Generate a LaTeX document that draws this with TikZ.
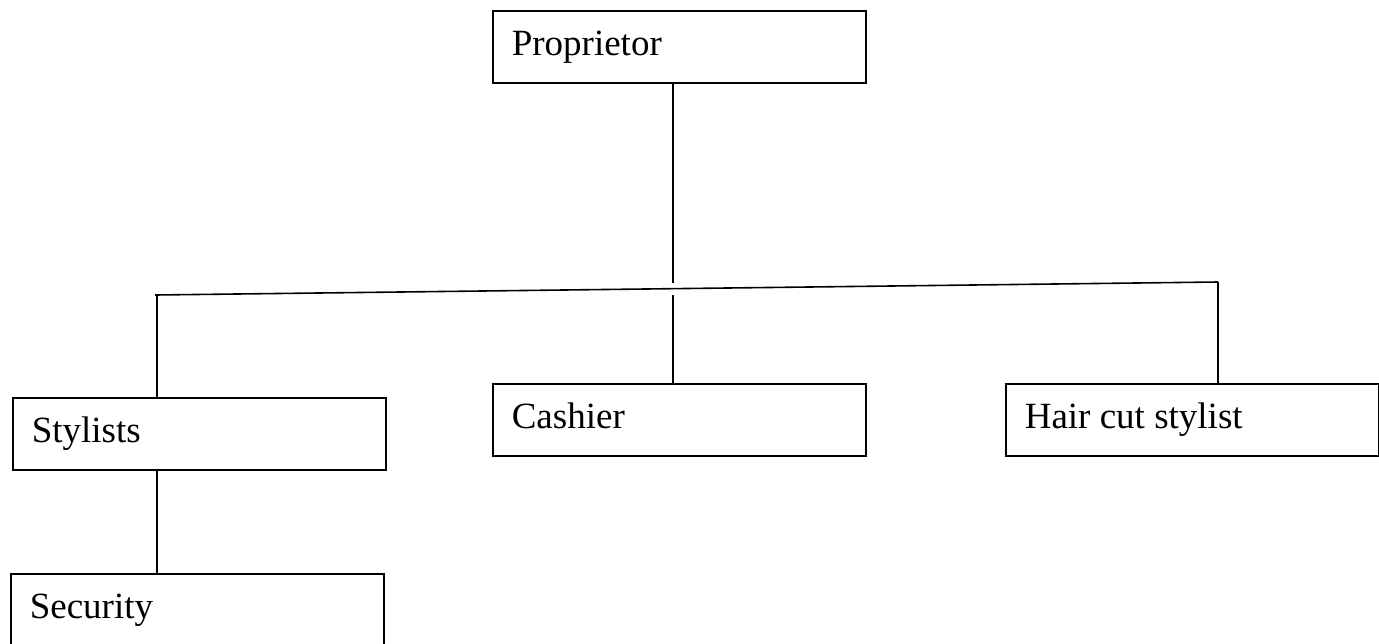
\documentclass[tikz,border=0pt]{standalone}
\usepackage{fontspec}
\setmainfont{Liberation Serif}
\newcommand{\postname}[1]{\makebox[335pt][l]{#1}}

\begin{document}
\begin{tikzpicture}[
    x=1pt, y=-1pt,
    post/.style={rectangle, draw, line width=1.6pt, minimum height=72pt,
        minimum width=373pt, inner xsep=19pt,
        text height=27.3pt, text depth=9.3pt,
        font=\fontsize{37}{44}\selectfont, anchor=north west},
    link/.style={line width=1.6pt}
]
\useasboundingbox (0,0) rectangle (1379,643);

% Boxes
\node[post] (prop) at (492,10) {\postname{Proprietor}};
\node[post] (styl) at (12,397) {\postname{Stylists}};
\node[post] (cash) at (492,383) {\postname{Cashier}};
\node[post] (hair) at (1005,383) {\postname{Hair cut stylist}};
\node[post] (secu) at (10,573) {\postname{Security}};

% Bar
\coordinate (barL) at (155,295);
\coordinate (barR) at (1218,282);
\coordinate (stopT) at (673,283);
\coordinate (stopB) at (673,295);
\coordinate (dropL) at (157,295);

% Connections
\draw[link] (barL) -- (barR);
\draw[link] (prop.south -| stopT) -- (stopT);
\draw[link] (stopB) -- (stopB |- cash.north);
\draw[link] (dropL) -- (dropL |- styl.north);
\draw[link] (barR) -- (barR |- hair.north);
\draw[link] (styl.south -| dropL) -- (dropL |- secu.north);

\end{tikzpicture}
\end{document}
